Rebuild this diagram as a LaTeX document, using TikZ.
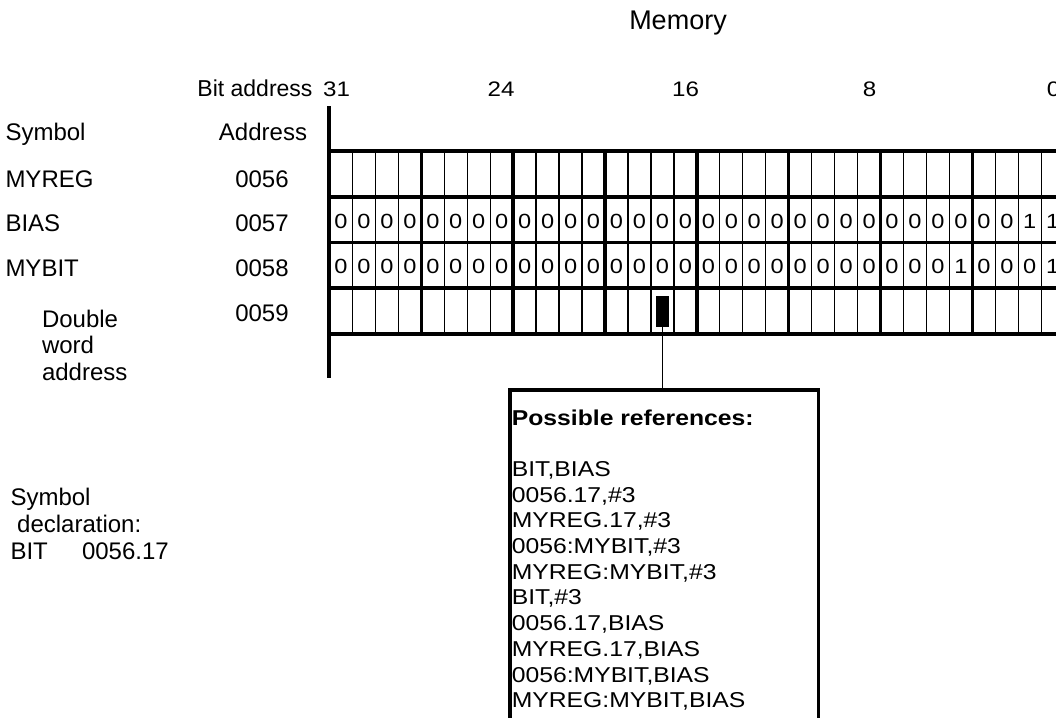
\documentclass[tikz,border=0pt]{standalone}
\usepackage{fontspec}
\setmainfont{Liberation Sans}
\newfontfamily\wfont[FakeStretch=1.15]{Liberation Sans}
\begin{document}
\begin{tikzpicture}[x=1pt,y=-1pt,
  lbl/.style={inner sep=0pt, outer sep=0pt, font=\fontsize{24}{28}\selectfont},
  num/.style={inner sep=0pt, outer sep=0pt, anchor=base, font=\wfont\fontsize{21}{25}\selectfont},
  bitv/.style={inner sep=0pt, outer sep=0pt, anchor=base, font=\wfont\fontsize{20.5}{24}\selectfont},
  reftxt/.style={inner sep=0pt, outer sep=0pt, anchor=base west, font=\wfont\fontsize{21.5}{25}\selectfont},
  rowline/.style={line width=3.8pt},
  nibline/.style={line width=3.5pt},
  thinline/.style={line width=1.3pt},
]
\useasboundingbox (0,0) rectangle (1056,717);
\clip (0,0) rectangle (1056,717);

% title and bit numbers
\node[inner sep=0pt, anchor=base, font=\fontsize{27}{32}\selectfont] (memory) at (678,29.3) {Memory};
\node[lbl, anchor=base east, font=\fontsize{23}{27}\selectfont] (bitaddr) at (312.5,96.5) {Bit address};
\node[num] (n31) at (336.5,96.5) {31};
\node[num] (n24) at (501,96.5) {24};
\node[num] (n16) at (685.5,96.5) {16};
\node[num] (n8) at (869.5,96.5) {8};
\node[num] (n0) at (1053.5,96.5) {0};

% left labels
\node[lbl, anchor=base west] (symhead) at (5.5,140.7) {Symbol};
\node[lbl, anchor=base] (addrhead) at (263,140.7) {Address};
\node[lbl, anchor=base west] (sMYREG) at (5.5,187) {MYREG};
\node[lbl, anchor=base] (a56) at (262,187) {0056};
\node[lbl, anchor=base west] (sBIAS) at (5.5,231.5) {BIAS};
\node[lbl, anchor=base] (a57) at (262,231) {0057};
\node[lbl, anchor=base west] (sMYBIT) at (5.5,276.5) {MYBIT};
\node[lbl, anchor=base] (a58) at (262,276) {0058};
\node[lbl, anchor=base] (a59) at (262,321) {0059};
\node[lbl, anchor=base west] (dbl1) at (42,327) {Double};
\node[lbl, anchor=base west] (dbl2) at (42,353) {word};
\node[lbl, anchor=base west] (dbl3) at (42,380) {address};

% symbol declaration
\node[lbl, anchor=base west] (decl1) at (10.5,505.5) {Symbol};
\node[lbl, anchor=base west] (decl2) at (10.5,532) {\ declaration:};
\node[lbl, anchor=base west] (decl3) at (10.5,559) {BIT\hspace{34.2pt}0056.17};

% memory grid
\foreach \n in {0,...,7}
  \foreach \j in {1,2,3}
    \draw[thinline] ({329.5+22.96*(4*\n+\j)},151) -- ++(0,183);
\foreach \n in {1,...,8}
  \draw[nibline] ({329.5+91.84*\n},151) -- ++(0,184);
\foreach \yy in {151,196.75,242.5,288.25,334}
  \draw[rowline] (328,\yy) -- (1070,\yy);
\draw[line width=4pt] (328.5,106) -- (328.5,378);

\foreach \v [count=\i from 0] in {0,0,0,0,0,0,0,0,0,0,0,0,0,0,0,0,0,0,0,0,0,0,0,0,0,0,0,0,0,0,1,1}
  \node[bitv] (r57b\i) at ({329.5+22.96*(\i+0.5)},228.3) {\v};
\foreach \v [count=\i from 0] in {0,0,0,0,0,0,0,0,0,0,0,0,0,0,0,0,0,0,0,0,0,0,0,0,0,0,0,1,0,0,0,1}
  \node[bitv] (r58b\i) at ({329.5+22.96*(\i+0.5)},273.3) {\v};

% marked bit and reference box
\node[fill=black, draw=black, line width=0.6pt, inner sep=0pt, outer sep=0pt, minimum width=12.5, minimum height=30.5, anchor=north west] (mark) at (656.2,296.2) {};
\node[draw, line width=3.5pt, inner sep=0pt, outer sep=0pt, minimum width=308.7, minimum height=420, anchor=north west] (refbox) at (510,390) {};
\draw[line width=1.5pt] (mark.south) -- (mark.south |- refbox.north);

\node[reftxt, font=\wfont\bfseries\fontsize{21.5}{25}\selectfont] (refhead) at (511.8,425) {Possible references:};
\foreach \t [count=\k from 2] in {{BIT,BIAS},{0056.17,\#3},{MYREG.17,\#3},{0056:MYBIT,\#3},{MYREG:MYBIT,\#3},{BIT,\#3},{0056.17,BIAS},{MYREG.17,BIAS},{0056:MYBIT,BIAS},{MYREG:MYBIT,BIAS}}
  \node[reftxt] (ref\k) at (511.8,{425+25.7*\k}) {\t};
\end{tikzpicture}
\end{document}
